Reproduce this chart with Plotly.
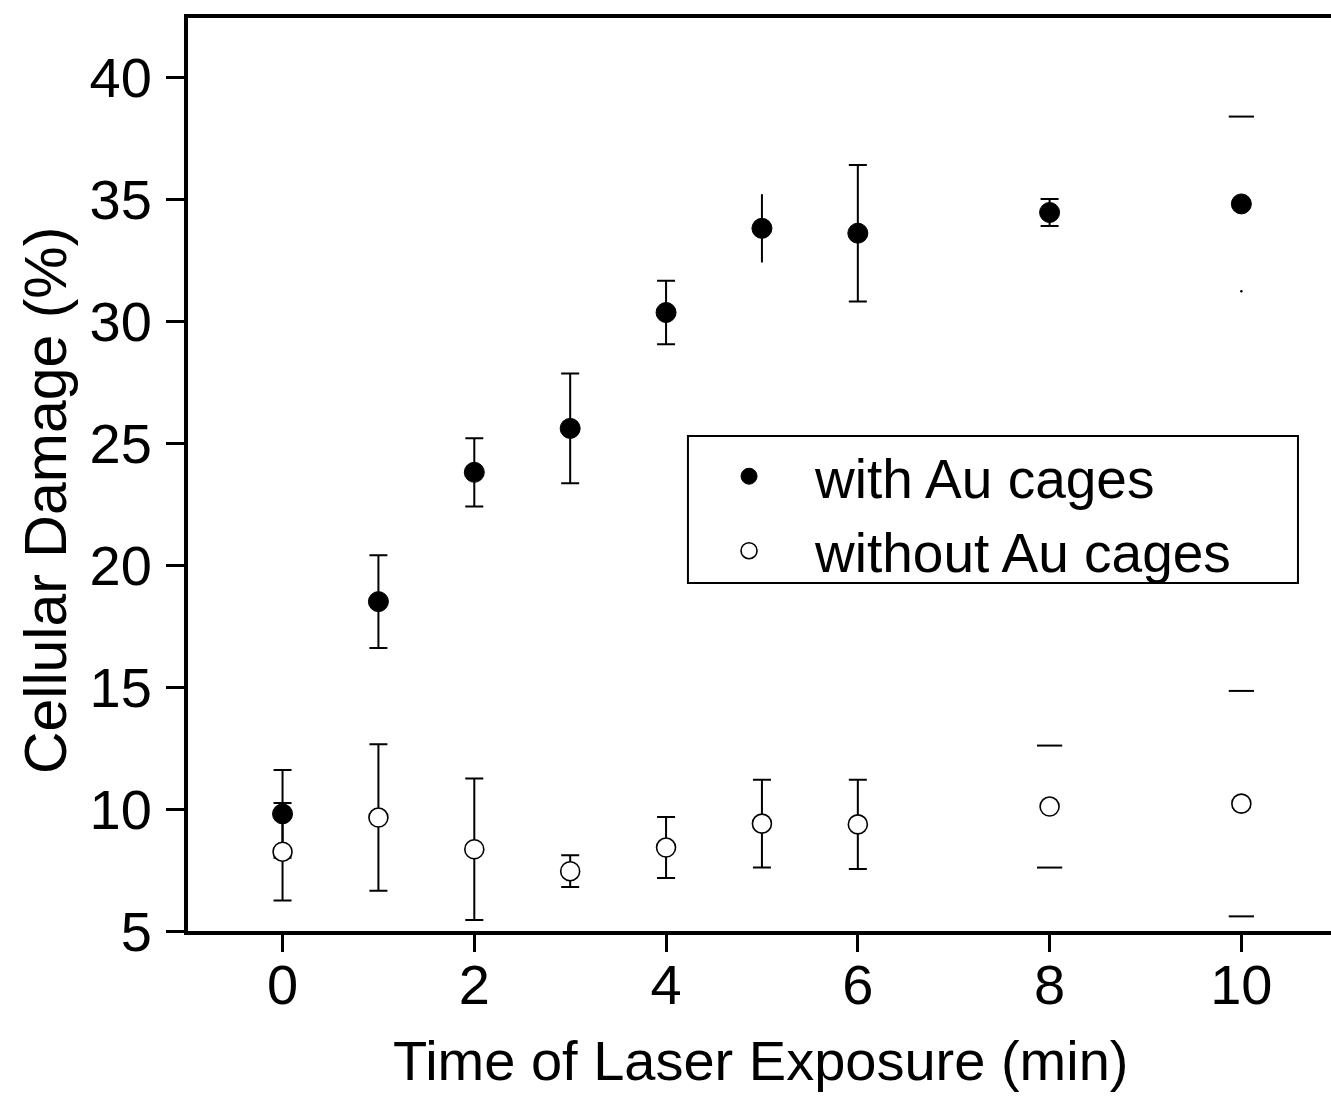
import plotly.graph_objects as go

# ---- data ----
time_min = [0, 1, 2, 3, 4, 5, 6, 8, 10]
with_au = [9.8, 18.5, 23.8, 25.6, 30.35, 33.8, 33.6, 34.45, 34.8]
with_err = [1.8, 1.9, 1.4, 2.25, 1.3, 1.4, 2.8, 0.55, 3.58]
without_au = [8.25, 9.65, 8.35, 7.45, 8.42, 9.4, 9.37, 10.1, 10.22]
without_err = [2.0, 3.0, 2.9, 0.65, 1.25, 1.8, 1.83, 2.5, 4.62]
x_ticks = [0, 2, 4, 6, 8, 10]
y_ticks = [5, 10, 15, 20, 25, 30, 35, 40]

# how each error bar appears in the reference
with_bar_style = ["full", "full", "full", "full", "full", "stem", "full", "full", "captop"]
without_bar_style = ["full", "full", "full", "full", "full", "full", "full", "caps", "caps"]

FONT = "Liberation Sans, Arial, sans-serif"
fig = go.Figure()


def add_series(name, ys, errs, styles, marker):
    clear = dict(color="rgba(0,0,0,0)", size=1)
    for style, w in (("full", 9), ("stem", 0)):
        idx = [i for i, s in enumerate(styles) if s == style]
        if idx:
            fig.add_trace(go.Scatter(
                x=[time_min[i] for i in idx], y=[ys[i] for i in idx],
                mode="markers", marker=clear, showlegend=False, hoverinfo="skip",
                error_y=dict(type="data", array=[errs[i] for i in idx],
                             color="black", thickness=2, width=w)))
    tops = [i for i, s in enumerate(styles) if s in ("caps", "captop")]
    bots = [i for i, s in enumerate(styles) if s == "caps"]
    dots = [i for i, s in enumerate(styles) if s == "captop"]
    capx = [time_min[i] for i in tops] + [time_min[i] for i in bots]
    capy = [ys[i] + errs[i] for i in tops] + [ys[i] - errs[i] for i in bots]
    if capx:
        fig.add_trace(go.Scatter(
            x=capx, y=capy, mode="markers", showlegend=False, hoverinfo="skip",
            marker=dict(symbol="line-ew", size=18, line=dict(color="black", width=2))))
    if dots:
        fig.add_trace(go.Scatter(
            x=[time_min[i] for i in dots], y=[ys[i] - errs[i] for i in dots],
            mode="markers", showlegend=False, hoverinfo="skip",
            marker=dict(symbol="circle", size=2.5, color="black")))
    fig.add_trace(go.Scatter(x=time_min, y=ys, mode="markers", name=name, marker=marker))


add_series("with Au cages", with_au, with_err, with_bar_style,
           dict(symbol="circle", size=20, color="black", line=dict(color="black", width=1)))
add_series("without Au cages", without_au, without_err, without_bar_style,
           dict(symbol="circle", size=19, color="white", line=dict(color="black", width=1.6)))

fig.update_layout(
    width=1331, height=1096,
    margin=dict(l=188, r=0, t=18, b=165),
    plot_bgcolor="white", paper_bgcolor="white",
    font=dict(family=FONT, size=56, color="black"),
    xaxis=dict(range=[-0.986, 10.935], tickvals=x_ticks, ticks="outside", ticklen=17,
               tickwidth=3, tickcolor="black", showline=True, linewidth=4,
               linecolor="black", mirror=True, showgrid=False, zeroline=False,
               tickfont=dict(size=56), ticklabelstandoff=-15),
    yaxis=dict(range=[5, 42.42], tickvals=y_ticks, ticks="outside", ticklen=18,
               tickwidth=3, tickcolor="black", showline=True, linewidth=4,
               linecolor="black", mirror=False, showgrid=False, zeroline=False,
               tickfont=dict(size=56), ticklabelstandoff=3),
    legend=dict(x=0.4331, y=0.5444, xanchor="left", yanchor="top",
                borderwidth=0, bgcolor="rgba(0,0,0,0)",
                font=dict(size=55), itemwidth=122, tracegroupgap=0),
    shapes=[dict(type="rect", xref="paper", yref="paper",
                 x0=0.4374, x1=0.9711, y0=0.3812, y1=0.5422,
                 line=dict(color="black", width=2), fillcolor="white", layer="below")],
    annotations=[
        dict(text="Time of Laser Exposure (min)", xref="paper", yref="paper",
             x=0.5013, y=-0.1413, xanchor="center", yanchor="middle",
             showarrow=False, font=dict(size=56)),
        dict(text="Cellular Damage (%)", xref="paper", yref="paper",
             x=-0.1242, y=0.472, xanchor="center", yanchor="middle",
             textangle=-90, showarrow=False, font=dict(size=59)),
    ],
)

fig.write_html(
    "out.html",
    config={"displayModeBar": False},
    post_script="document.body.style.margin='0';"
                "document.documentElement.style.overflow='hidden';"
                "document.body.style.overflow='hidden';",
)
